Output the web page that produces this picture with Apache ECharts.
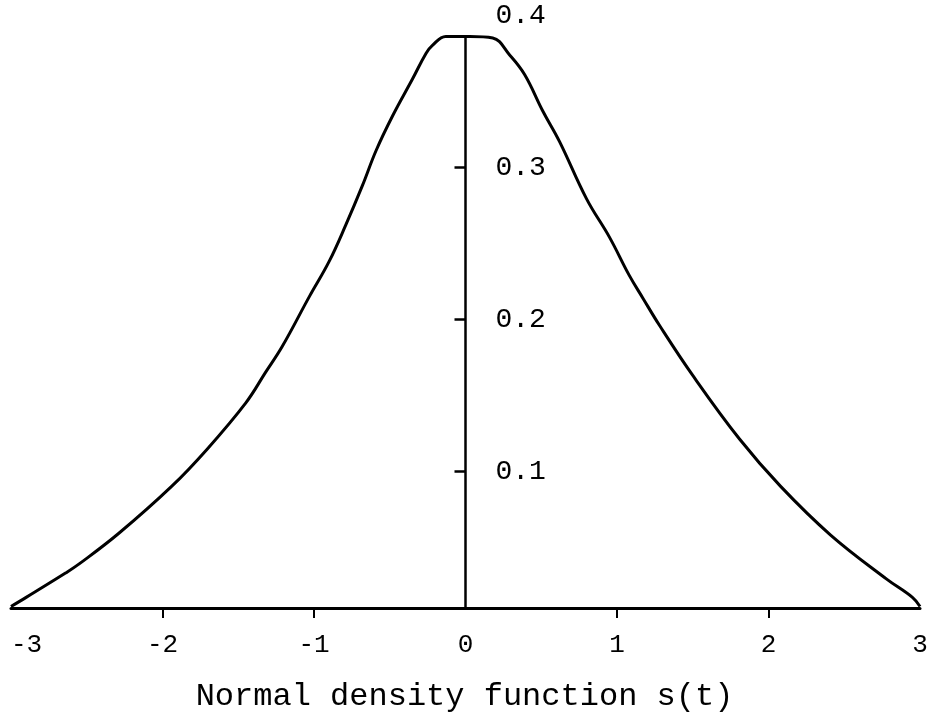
<!DOCTYPE html>
<html>
<head>
<meta charset="utf-8">
<script src="https://cdn.jsdelivr.net/npm/echarts@6/dist/echarts.min.js"></script>
<style>
  html, body { margin: 0; padding: 0; background: #ffffff; }
  #chart { width: 929px; height: 717px; }
</style>
</head>
<body>
<div id="chart"></div>
<script>
// Bell curve s(t), traced as (t, s) pairs
const tValues = [
  -3.00, -2.90, -2.64, -2.55, -2.29, -1.94, -1.71, -1.45, -1.32, -1.21,
  -1.03, -0.90, -0.79, -0.68, -0.59, -0.48, -0.35, -0.26, -0.22, -0.13,
   0.03,  0.18,  0.29,  0.39,  0.51,  0.62,  0.80,  0.95,  1.08,  1.17,
   1.28,  1.50,  1.81,  2.08,  2.41,  2.78,  2.95,  3.00
];
const sValues = [
  0.011, 0.017, 0.033, 0.039, 0.059, 0.090, 0.114, 0.145, 0.165, 0.182,
  0.215, 0.238, 0.262, 0.288, 0.311, 0.334, 0.358, 0.375, 0.380, 0.386,
  0.386, 0.385, 0.374, 0.361, 0.337, 0.317, 0.279, 0.254, 0.229, 0.214,
  0.196, 0.163, 0.121, 0.090, 0.058, 0.029, 0.017, 0.011
];

// Axis marks and labels
const xTickValues = [-2, -1, 1, 2];
const yTickValues = [0.1, 0.2, 0.3];
const yLabelValues = [0.1, 0.2, 0.3, 0.4];
const baseLevel = 0.01;   // level at which the t axis is drawn
const topLevel = 0.41;
const captionText = 'Normal density function s(t)';

const curve = tValues.map((t, i) => [t, sValues[i]]);
const peak = Math.max(...sValues);
const mono = '"Liberation Mono", "DejaVu Sans Mono", monospace';

const W = 929;
const gridLeft = 11, gridRight = 9;
const plotWidth = W - gridLeft - gridRight;
// shift the s axis from the right edge of the plot to t = 0
const sAxisOffset = -plotWidth * (3 - 0) / 6;

const chart = echarts.init(document.getElementById('chart'), null, { renderer: 'canvas' });

chart.setOption({
  backgroundColor: '#ffffff',
  animation: false,
  title: {
    text: captionText,
    left: 'center',
    top: 676,
    textStyle: { fontFamily: mono, fontSize: 32, fontWeight: 'normal', color: '#000' }
  },
  grid: {
    left: gridLeft, right: gridRight, top: 0, bottom: 109,
    containLabel: false,
    outerBoundsMode: 'none'
  },
  xAxis: {
    type: 'value',
    min: -3, max: 3, interval: 1,
    axisLine: { onZero: false, lineStyle: { color: '#000', width: 3 } },
    axisTick: {
      show: true, customValues: xTickValues, length: 10,
      lineStyle: { color: '#000', width: 2 }
    },
    axisLabel: {
      color: '#000', fontFamily: mono, fontSize: 26, margin: 24,
      alignMinLabel: 'left', showMinLabel: true, showMaxLabel: true
    },
    splitLine: { show: false }
  },
  yAxis: {
    type: 'value',
    position: 'right',
    offset: sAxisOffset,
    min: baseLevel, max: topLevel,
    axisLine: { show: false, onZero: false },
    axisTick: {
      show: true, customValues: yTickValues, length: 11, inside: true,
      lineStyle: { color: '#000', width: 2.5 }
    },
    axisLabel: {
      inside: false, margin: 30, customValues: yLabelValues,
      color: '#000', fontFamily: mono, fontSize: 28,
      formatter: v => v.toFixed(1)
    },
    splitLine: { show: false }
  },
  series: [{
    type: 'line',
    data: curve,
    showSymbol: false,
    smooth: 0.4,
    lineStyle: { color: '#000', width: 3 },
    markLine: {
      silent: true,
      symbol: 'none',
      label: { show: false },
      lineStyle: { color: '#000', width: 2.5, type: 'solid' },
      data: [[{ coord: [0, baseLevel] }, { coord: [0, peak] }]]
    }
  }]
});
</script>
</body>
</html>
